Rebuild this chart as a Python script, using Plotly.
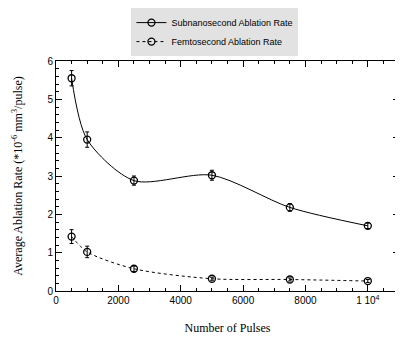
import plotly.graph_objects as go

pulses = [500, 1000, 2500, 5000, 7500, 10000]
sub_rate = [5.55, 3.95, 2.88, 3.02, 2.18, 1.70]
sub_err = [0.2, 0.2, 0.12, 0.13, 0.1, 0.07]
fem_rate = [1.42, 1.02, 0.58, 0.32, 0.30, 0.26]
fem_err = [0.18, 0.15, 0.07, 0.04, 0.04, 0.04]
x_tickvals = [0, 2000, 4000, 6000, 8000, 10000]
x_ticktext = ["0", "2000", "4000", "6000", "8000", "1 10<sup>4</sup>"]
y_tickvals = [0, 1, 2, 3, 4, 5, 6]

fig = go.Figure()
fig.add_trace(go.Scatter(
    x=pulses, y=sub_rate, name="Subnanosecond Ablation Rate",
    mode="lines+markers",
    line=dict(color="black", width=1, shape="spline", smoothing=0.8),
    marker=dict(symbol="circle-open", size=7, color="black", line=dict(width=1.3)),
    error_y=dict(type="data", array=sub_err, color="black", thickness=1, width=2),
))
fig.add_trace(go.Scatter(
    x=pulses, y=fem_rate, name="Femtosecond Ablation Rate",
    mode="lines+markers",
    line=dict(color="black", width=1, dash="dot", shape="spline", smoothing=0.8),
    marker=dict(symbol="circle-open", size=7, color="black", line=dict(width=1.3)),
    error_y=dict(type="data", array=fem_err, color="black", thickness=1, width=2),
))

axis_common = dict(
    showline=True, linecolor="black", linewidth=1, mirror="ticks",
    ticks="inside", ticklen=6, tickcolor="black", showgrid=False, zeroline=False,
    tickfont=dict(family="Liberation Sans, Arial", size=10, color="black"),
)
fig.update_xaxes(
    range=[0, 11000], tickvals=x_tickvals, ticktext=x_ticktext,
    title=dict(text="Number of Pulses", font=dict(family="Liberation Serif, Times New Roman", size=12, color="black"), standoff=18),
    minor=dict(dtick=500, ticks="inside", ticklen=3, tickcolor="black"),
    **axis_common,
)
fig.update_yaxes(
    range=[0, 6], tickvals=y_tickvals,
    title=dict(text="Average Ablation Rate (*10<sup>-6</sup> mm<sup>3</sup>/pulse)", font=dict(family="Liberation Serif, Times New Roman", size=12, color="black"), standoff=22),
    minor=dict(dtick=0.2, ticks="inside", ticklen=3, tickcolor="black"),
    **axis_common,
)
fig.update_layout(
    width=403, height=349,
    margin=dict(l=48, r=12, t=53, b=66, autoexpand=False),
    paper_bgcolor="white", plot_bgcolor="white",
    showlegend=True,
    legend=dict(x=0.22, y=1.23, xanchor="left", yanchor="top",
                bgcolor="#e2e2e2", borderwidth=0,
                font=dict(family="Liberation Sans, Arial", size=9, color="black"),
                tracegroupgap=0, itemwidth=30),
)
fig.write_html("out.html")
